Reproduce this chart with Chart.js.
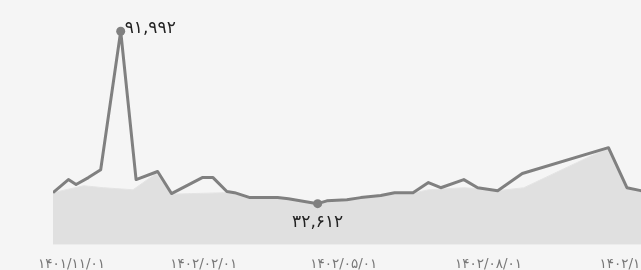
<!DOCTYPE html>
<html>
<head>
<meta charset="utf-8">
<script src="https://cdn.jsdelivr.net/npm/chart.js@4/dist/chart.umd.min.js"></script>
<style>
  html, body { margin: 0; padding: 0; background: #f5f5f5; overflow: hidden; }
  #wrap { width: 700px; height: 270px; }
</style>
</head>
<body>
<div id="wrap"><canvas id="chart"></canvas></div>
<script>
// day offsets from 1401/11/01
const lineDays = [-12, -2, 3, 11, 19, 32, 42, 56, 65, 85, 92, 101, 106, 116, 134, 141, 160, 166, 179, 188, 201, 210, 222, 232, 240, 255, 264, 277, 293, 349, 361, 370, 376];
const lineValues = [36400, 40900, 39200, 41600, 44300, 91992, 40900, 43700, 36100, 41600, 41600, 36800, 36400, 34700, 34700, 34300, 32612, 33600, 34000, 34700, 35400, 36400, 36400, 39900, 38100, 40900, 38100, 37100, 43000, 51900, 38100, 37100, 37100];

const areaDays = [-12, 8, 21, 40, 55, 65, 100, 106, 116, 134, 141, 160, 166, 179, 188, 201, 210, 222, 232, 255, 264, 277, 294, 349, 361, 370, 376];
const areaValues = [36400, 38800, 38100, 37400, 43000, 35900, 36400, 36200, 34500, 34500, 34100, 32400, 33400, 33800, 34500, 35200, 36200, 36200, 37400, 38100, 37800, 37100, 38100, 51900, 38000, 37000, 37000];

const tickDays = [0, 86, 177, 271, 365];
const tickLabels = ["۱۴۰۱/۱۱/۰۱", "۱۴۰۲/۰۲/۰۱", "۱۴۰۲/۰۵/۰۱", "۱۴۰۲/۰۸/۰۱", "۱۴۰۲/۱۱/۰۱"];

const toFa = (n) => n.toLocaleString("en-US").replace(/\d/g, (d) => "۰۱۲۳۴۵۶۷۸۹"[d]);

const maxIdx = lineValues.indexOf(Math.max(...lineValues));
const minIdx = lineValues.indexOf(Math.min(...lineValues));

const pointLabels = {
    id: "pointLabels",
    afterDatasetsDraw(chart) {
        const ctx = chart.ctx;
        const pts = chart.getDatasetMeta(0).data;
        ctx.save();
        ctx.fillStyle = "#222";
        ctx.font = "17px 'DejaVu Sans'";
        ctx.textBaseline = "middle";
        ctx.textAlign = "left";
        ctx.fillText(toFa(lineValues[maxIdx]), pts[maxIdx].x + 4, pts[maxIdx].y - 3);
        ctx.textAlign = "center";
        ctx.fillText(toFa(lineValues[minIdx]), pts[minIdx].x, pts[minIdx].y + 19);
        ctx.restore();
    },
};

const chart = new Chart(document.getElementById("chart"), {
    type: "line",
    data: {
        datasets: [
            {
                data: lineDays.map((d, i) => ({ x: d, y: lineValues[i] })),
                order: 0,
                fill: false,
                borderColor: "#808080",
                borderWidth: 3,
                borderJoinStyle: "round",
                pointRadius: lineValues.map((v, i) => (i === maxIdx || i === minIdx ? 4.5 : 0)),
                pointBackgroundColor: "#808080",
                pointBorderWidth: 0,
                tension: 0,
            },
            {
                data: areaDays.map((d, i) => ({ x: d, y: areaValues[i] })),
                order: 1,
                fill: "start",
                backgroundColor: "#e0e0e0",
                borderColor: "#e4e4e4",
                borderWidth: 1,
                pointRadius: 0,
                tension: 0,
            },
        ],
    },
    options: {
        responsive: true,
        maintainAspectRatio: false,
        animation: false,
        layout: { padding: { left: 53, right: 50, top: 8, bottom: -15 } },
        plugins: { legend: { display: false }, tooltip: { enabled: false } },
        scales: {
            x: {
                type: "linear",
                min: -12,
                max: 376,
                grid: { display: false, drawTicks: false },
                border: { display: false },
                afterBuildTicks: (axis) => {
                    axis.ticks = tickDays.map((v) => ({ value: v }));
                },
                ticks: {
                    autoSkip: false,
                    maxRotation: 0,
                    color: "#777",
                    padding: 12,
                    font: { family: "'DejaVu Sans'", size: 13.5 },
                    callback: (v) => tickLabels[tickDays.indexOf(v)],
                },
            },
            y: {
                display: false,
                min: 18450,
                max: 100000,
            },
        },
    },
    plugins: [pointLabels],
});
</script>
</body>
</html>
